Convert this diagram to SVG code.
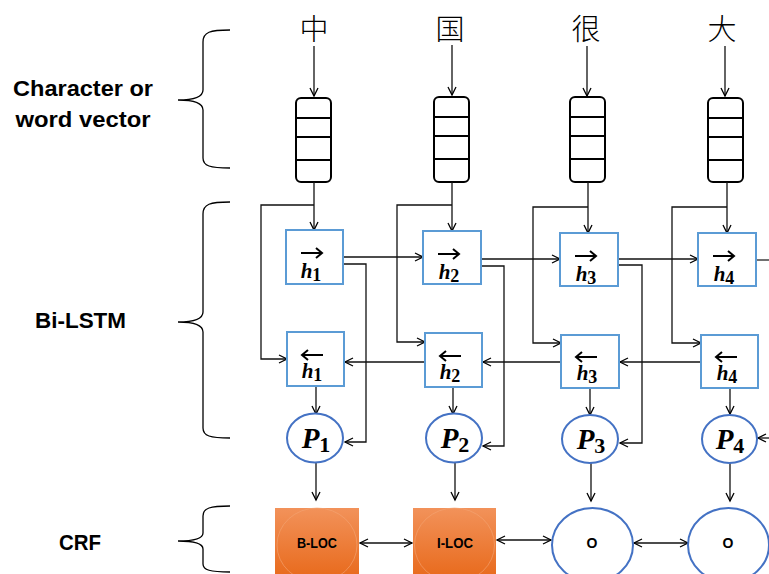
<svg xmlns="http://www.w3.org/2000/svg" width="769" height="574" viewBox="0 0 769 574">
<defs>
<marker id="ah" markerUnits="userSpaceOnUse" markerWidth="12" markerHeight="12" refX="9" refY="5" orient="auto-start-reverse" viewBox="0 0 12 10">
<path d="M1,1 L9,5 L1,9" fill="none" stroke="#000" stroke-width="1.3"/>
</marker>
<linearGradient id="og" x1="0" y1="0" x2="0" y2="1">
<stop offset="0" stop-color="#F2925A"/>
<stop offset="1" stop-color="#E86A1C"/>
</linearGradient>
<style>
.lbl{font-family:"Liberation Sans",Arial,sans-serif;font-weight:bold;font-size:22px;fill:#000;text-anchor:middle}
.cjk{font-family:"Noto Sans CJK SC","Noto Sans CJK JP",sans-serif;font-size:29px;font-weight:300;fill:#000;text-anchor:middle}
.vec{fill:#fff;stroke:#000;stroke-width:2}
.div{stroke:#000;stroke-width:2}
.hb{fill:#fff;stroke:#5B9BD5;stroke-width:2}
.pe{fill:#fff;stroke:#4472C4;stroke-width:2}
.math{font-family:"Liberation Serif","Times New Roman",serif;font-weight:bold;font-style:italic;fill:#000;text-anchor:middle}
.sub{font-style:normal}
.acc{fill:none;stroke:#000;stroke-width:2}
.con{fill:none;stroke:#111;stroke-width:1.3;marker-end:url(#ah)}
.line{fill:none;stroke:#222;stroke-width:1.3}
.dbl{fill:none;stroke:#111;stroke-width:1.3;marker-start:url(#ah);marker-end:url(#ah)}
.brace{fill:none;stroke:#000;stroke-width:1.3}
.crf{font-family:"Liberation Sans",Arial,sans-serif;font-weight:bold;font-size:14px;fill:#000;text-anchor:middle}
</style>
</defs>
<rect width="769" height="574" fill="#fff"/>

<g id="labels">
<text class="lbl" x="83" y="96" textLength="140" lengthAdjust="spacingAndGlyphs">Character or</text>
<text class="lbl" x="83" y="127" textLength="135" lengthAdjust="spacingAndGlyphs">word vector</text>
<text class="lbl" x="80.5" y="328" textLength="91" lengthAdjust="spacingAndGlyphs">Bi-LSTM</text>
<text class="lbl" x="80" y="550" textLength="42" lengthAdjust="spacingAndGlyphs">CRF</text>
</g>

<g id="braces">
<path class="brace" d="M230,30 C210,30 203,32 203,42 V90 C203,97 195,100 178,100 C195,100 203,103 203,110 V158 C203,166 210,168 230,168"/>
<path class="brace" d="M230,202 C210,202 203,204 203,214 V312 C203,319 195,322 178,322 C195,322 203,325 203,332 V428 C203,436 210,438 230,438"/>
<path class="brace" d="M230,506 C210,506 203,508 203,516 V533 C203,538 195,541 178,541 C195,541 203,544 203,549 V564 C203,570 210,572 230,572"/>
</g>

<g id="chars">
<text class="cjk" x="314" y="40">中</text>
<text class="cjk" x="450" y="40">国</text>
<text class="cjk" x="586" y="40">很</text>
<text class="cjk" x="722" y="40">大</text>
</g>

<g id="vec1"><rect class="vec" x="296" y="98" width="35" height="84" rx="5"/><path class="div" d="M296,118H331M296,137H331M296,160H331"/></g>
<g id="vec2"><rect class="vec" x="434" y="97" width="35" height="85" rx="5"/><path class="div" d="M434,117H469M434,136H469M434,159H469"/></g>
<g id="vec3"><rect class="vec" x="570" y="97" width="35" height="85" rx="5"/><path class="div" d="M570,117H605M570,136H605M570,159H605"/></g>
<g id="vec4"><rect class="vec" x="708" y="98" width="35" height="84" rx="5"/><path class="div" d="M708,118H743M708,137H743M708,160H743"/></g>

<g id="connectors">
<path class="con" d="M314,46V96"/>
<path class="con" d="M452,45V95"/>
<path class="con" d="M587,46V96"/>
<path class="con" d="M725,46V96"/>

<path class="con" d="M314,182V230"/>
<path class="con" d="M452,182V231"/>
<path class="con" d="M588,182V233"/>
<path class="con" d="M727,182V233"/>

<path class="con" d="M314,205H261V359H287"/>
<path class="con" d="M452,205H397V342H425"/>
<path class="con" d="M588,207H533V343H561"/>
<path class="con" d="M727,207H672V343H701"/>

<path class="con" d="M343,257H423"/>
<path class="con" d="M481,259H560"/>
<path class="con" d="M618,259H698"/>
<path class="line" d="M756,260H769"/>

<path class="con" d="M343,264H366V442H345"/>
<path class="con" d="M481,266H504V446H483"/>
<path class="con" d="M618,265H642V443H620"/>
<path class="con" d="M769,438H758"/>

<path class="con" d="M425,362H345"/>
<path class="con" d="M561,362H483"/>
<path class="con" d="M701,362H620"/>

<path class="con" d="M316,386V414"/>
<path class="con" d="M453,387V414"/>
<path class="con" d="M590,388V415"/>
<path class="con" d="M730,388V414"/>

<path class="con" d="M316,463V500"/>
<path class="con" d="M455,463V500"/>
<path class="con" d="M591,463V501"/>
<path class="con" d="M730,463V501"/>

<path class="dbl" d="M360,543H412"/>
<path class="dbl" d="M497,540H551"/>
<path class="dbl" d="M634,543H688"/>
</g>

<g id="hf1"><rect class="hb" x="286" y="230" width="57" height="54"/><path class="acc" d="M301,253H322M316,248L322,253L316,258"/><text class="math" x="311" y="278" font-size="21">h<tspan class="sub" font-size="18" dy="3">1</tspan></text></g>
<g id="hf2"><rect class="hb" x="423" y="231" width="58" height="53"/><path class="acc" d="M438,254H459M453,249L459,254L453,259"/><text class="math" x="449" y="279" font-size="21">h<tspan class="sub" font-size="18" dy="3">2</tspan></text></g>
<g id="hf3"><rect class="hb" x="560" y="233" width="58" height="53"/><path class="acc" d="M575,256H596M590,251L596,256L590,261"/><text class="math" x="586" y="281" font-size="21">h<tspan class="sub" font-size="18" dy="3">3</tspan></text></g>
<g id="hf4"><rect class="hb" x="698" y="233" width="58" height="53"/><path class="acc" d="M713,256H734M728,251L734,256L728,261"/><text class="math" x="724" y="281" font-size="21">h<tspan class="sub" font-size="18" dy="3">4</tspan></text></g>

<g id="hb1"><rect class="hb" x="287" y="332" width="57" height="54"/><path class="acc" d="M323,355H302M308,350L302,355L308,360"/><text class="math" x="312" y="378" font-size="21">h<tspan class="sub" font-size="18" dy="3">1</tspan></text></g>
<g id="hb2"><rect class="hb" x="425" y="333" width="57" height="54"/><path class="acc" d="M461,356H440M446,351L440,356L446,361"/><text class="math" x="450" y="379" font-size="21">h<tspan class="sub" font-size="18" dy="3">2</tspan></text></g>
<g id="hb3"><rect class="hb" x="561" y="335" width="58" height="53"/><path class="acc" d="M597,357H576M582,352L576,357L582,362"/><text class="math" x="587" y="380" font-size="21">h<tspan class="sub" font-size="18" dy="3">3</tspan></text></g>
<g id="hb4"><rect class="hb" x="701" y="335" width="57" height="53"/><path class="acc" d="M737,357H716M722,352L716,357L722,362"/><text class="math" x="727" y="380" font-size="21">h<tspan class="sub" font-size="18" dy="3">4</tspan></text></g>

<g id="p1"><ellipse class="pe" cx="315" cy="438" rx="28" ry="24.5"/><text class="math" x="316" y="448" font-size="29">P<tspan class="sub" font-size="22" dy="4">1</tspan></text></g>
<g id="p2"><ellipse class="pe" cx="454" cy="438" rx="28" ry="24.5"/><text class="math" x="455" y="448" font-size="29">P<tspan class="sub" font-size="22" dy="4">2</tspan></text></g>
<g id="p3"><ellipse class="pe" cx="590" cy="439" rx="28" ry="24"/><text class="math" x="591" y="449" font-size="29">P<tspan class="sub" font-size="22" dy="4">3</tspan></text></g>
<g id="p4"><ellipse class="pe" cx="729.5" cy="439" rx="27.5" ry="24"/><text class="math" x="730" y="449" font-size="29">P<tspan class="sub" font-size="22" dy="4">4</tspan></text></g>

<g id="crf1"><rect x="275" y="508" width="84" height="70" fill="url(#og)"/><ellipse cx="317" cy="545" rx="40" ry="37" fill="none" stroke="#F4A574" stroke-width="1" opacity="0.6"/><text class="crf" x="317" y="548" textLength="40" lengthAdjust="spacingAndGlyphs">B-LOC</text></g>
<g id="crf2"><rect x="413" y="508" width="83" height="70" fill="url(#og)"/><ellipse cx="454.5" cy="545" rx="40" ry="37" fill="none" stroke="#F4A574" stroke-width="1" opacity="0.6"/><text class="crf" x="455" y="548" textLength="36" lengthAdjust="spacingAndGlyphs">I-LOC</text></g>
<g id="crf3"><ellipse class="pe" cx="592.5" cy="545" rx="40.5" ry="37"/><text class="crf" x="592" y="548">O</text></g>
<g id="crf4"><ellipse class="pe" cx="728.5" cy="545" rx="40.5" ry="37"/><text class="crf" x="728" y="548">O</text></g>
</svg>
